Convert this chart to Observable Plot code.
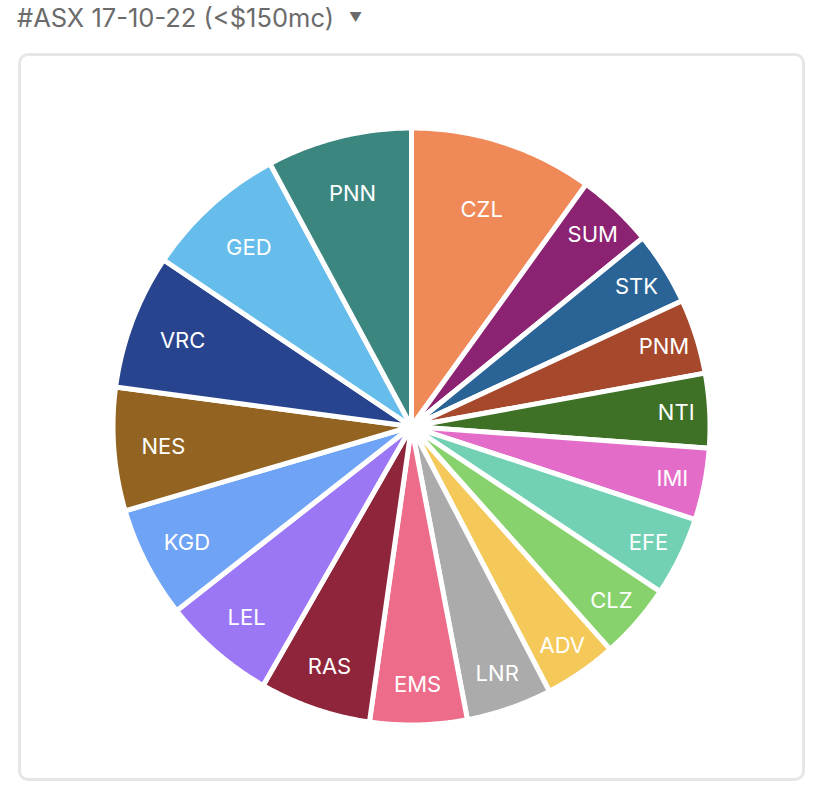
<!DOCTYPE html>
<html><head><meta charset="utf-8">
<script src="https://cdn.jsdelivr.net/npm/d3@7"></script>
<script src="https://cdn.jsdelivr.net/npm/@observablehq/plot@0.6"></script>
<style>
body{margin:0;background:#fff;font-family:Inter,"Noto Sans",sans-serif;}
#title{position:absolute;left:17px;top:2px;font-size:25.5px;color:#6b6b6b;white-space:nowrap;}
#title .caret{font-size:13px;margin-left:15px;vertical-align:5px;}
#box{position:absolute;left:18px;top:53px;width:781px;height:722px;border:3px solid #e6e6e6;border-radius:10px;}
#box svg{display:block;}
</style></head><body>
<div id="title">#ASX 17-10-22 (&lt;$150mc)<span class="caret">▼</span></div>
<div id="box"></div>
<script>
const tickers = ["CZL","SUM","STK","PNM","NTI","IMI","EFE","CLZ","ADV","LNR","EMS","RAS","LEL","KGD","NES","VRC","GED","PNN"];
const values  = [35.8, 15.0, 14.3, 14.6, 14.5, 14.0, 15.4, 14.7, 14.2, 16.7, 18.9, 21.7, 22.1, 21.7, 24.0, 26.3, 27.8, 28.3];
const colors  = ["#f08958","#8b2272","#2a6496","#a6482c","#3e7126","#e46cc9","#72d1b5","#88d26d","#f5c959","#ababab","#ec6c8a","#8e253b","#9b76f5","#6ea3f5","#936421","#28448e","#66bcea","#3c8680"];

const rows = tickers.map((t, i) => ({ticker: t, value: values[i]}));
const slices = d3.pie().sort(null).value(d => d.value)(rows);

const pts = [];
const labels = [];
for (const s of slices) {
  const t = s.data.ticker;
  pts.push({ticker: t, x: 0, y: 0});
  const span = s.endAngle - s.startAngle;
  const n = Math.max(2, Math.ceil(span / 0.01));
  for (let k = 0; k <= n; k++) {
    const a = s.startAngle + span * k / n;
    pts.push({ticker: t, x: Math.sin(a), y: Math.cos(a)});
  }
  pts.push({ticker: t, x: 0, y: 0});
  const deg = span * 180 / Math.PI;
  const rl = 0.888 - 0.00576 * (deg - 14.5);
  const mid = (s.startAngle + s.endAngle) / 2;
  labels.push({ticker: t, x: rl * Math.sin(mid), y: rl * Math.cos(mid)});
}

const R = 298.5, cx = 390, cy = 370;
const chart = Plot.plot({
  width: 781, height: 722, margin: 0,
  x: {domain: [-1, 1], range: [cx - R, cx + R], axis: null},
  y: {domain: [-1, 1], range: [cy + R, cy - R], axis: null},
  color: {domain: tickers, range: colors},
  marks: [
    Plot.line(pts, {x: "x", y: "y", z: "ticker", fill: "ticker", stroke: "white", strokeWidth: 5, strokeLinejoin: "round"}),
    Plot.text(labels, {x: "x", y: "y", dy: 1, text: "ticker", fill: "white", fontSize: 22, fontWeight: 400, fontFamily: "Inter, sans-serif"})
  ]
});
document.getElementById("box").appendChild(chart);
</script>
</body></html>
